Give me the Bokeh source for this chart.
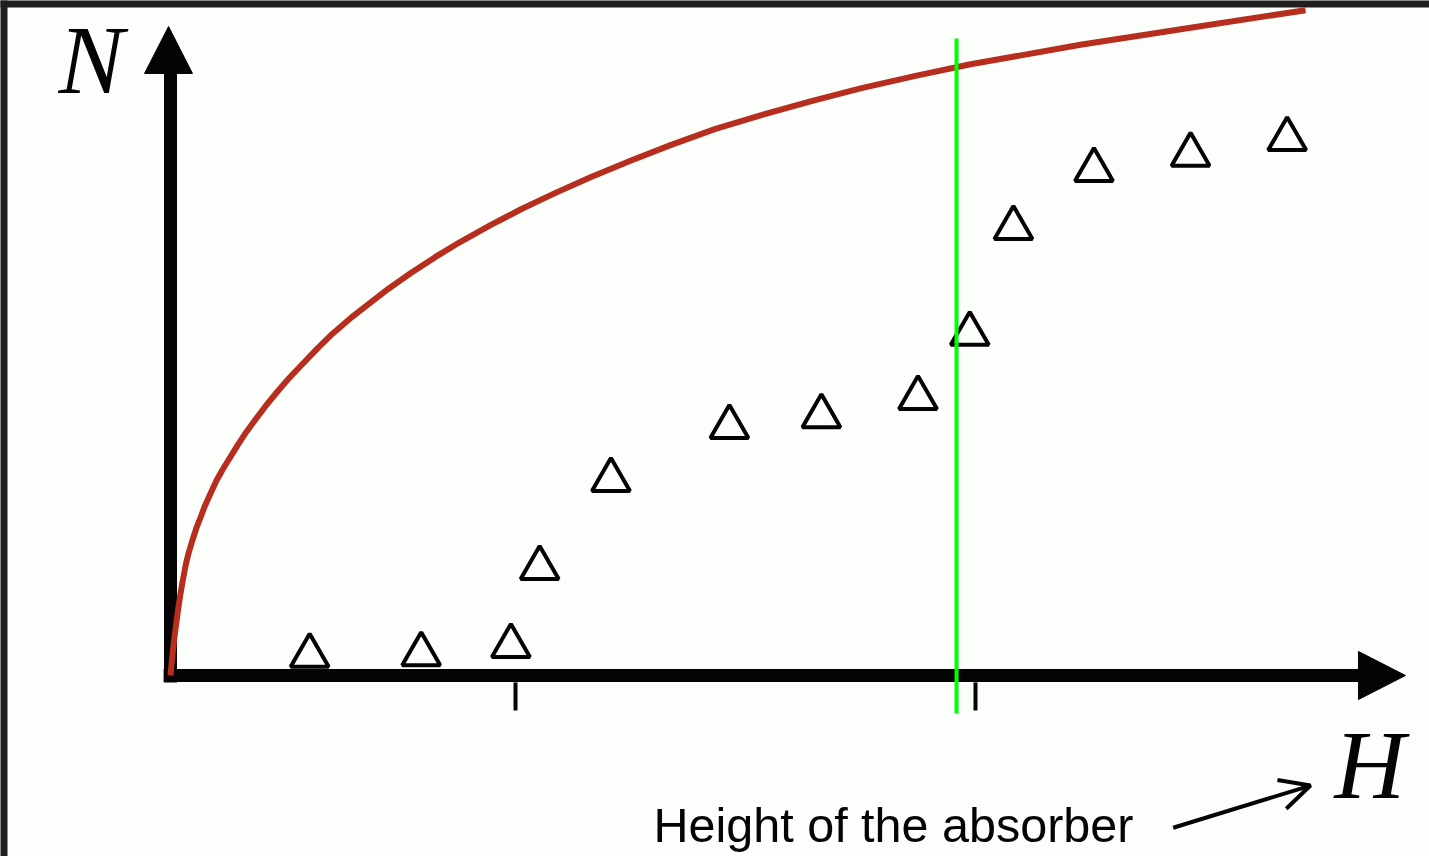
from bokeh.plotting import figure
from bokeh.models import Range1d, Arrow, OpenHead, ColumnDataSource
from bokeh.core.properties import value
from bokeh.embed import file_html
from bokeh.resources import INLINE

# Measured counts N versus absorber height H (open triangles)
meas_h = [1.21, 2.18, 2.96, 3.21, 3.83, 4.86, 5.66, 6.50, 6.95, 7.33, 8.03, 8.87, 9.71]
meas_n = [0.172, 0.185, 0.257, 0.935, 1.70, 2.161, 2.254, 2.413, 2.971, 3.891, 4.396, 4.528, 4.664]

# Expected curve N(H)
curve_h = [0.0, 0.0087, 0.0174, 0.0261, 0.0348, 0.0522, 0.0696, 0.0870, 0.1043, 0.1304,
           0.1565, 0.1913, 0.2261, 0.2609, 0.2957, 0.3478, 0.4000, 0.4522, 0.5826, 0.6609,
           0.7391, 0.8261, 0.9304, 1.0261, 1.1478, 1.2783, 1.4087, 1.5652, 1.7217, 1.8957,
           2.0870, 2.3043, 2.5217, 2.7826, 3.0435, 3.3478, 3.6522, 4.0000, 4.3478, 4.7391,
           5.1304, 5.5652, 6.0000, 6.4783, 6.9565, 7.9130, 8.8696, 9.8696]
curve_n = [0.0, 0.0957, 0.1817, 0.2609, 0.3374, 0.4696, 0.5983, 0.7130, 0.8130, 0.9522,
           1.0626, 1.1783, 1.2852, 1.3739, 1.4670, 1.5826, 1.6957, 1.7896, 2.0017, 2.1200,
           2.2270, 2.3417, 2.4696, 2.5809, 2.7087, 2.8452, 2.9722, 3.1070, 3.2296, 3.3635,
           3.4983, 3.6400, 3.7713, 3.9157, 4.0522, 4.1965, 4.3330, 4.4765, 4.6122, 4.7530,
           4.8704, 4.9922, 5.1052, 5.2148, 5.3148, 5.4843, 5.6330, 5.7852]

# Tick marks on the H axis and the absorber height marker
tick_h = [3, 7]
absorber_h = 6.835

BG = "#fcfefc"
FRAME = "#221f20"
INK = "#050305"
RED = "#b82e1e"
GREEN = "#00ff00"

X0, X1 = -1.4783, 10.9478
Y0, Y1 = -1.5739, 5.8696
PX = 1 / 115.0

p = figure(width=1429, height=856,
           x_range=Range1d(X0, X1), y_range=Range1d(Y0, Y1),
           output_backend="svg", toolbar_location=None,
           x_axis_location=None, y_axis_location=None,
           min_border=0, background_fill_color=BG, border_fill_color=BG)
p.grid.visible = False
p.outline_line_color = None

# Dark edge along the top and the left side of the canvas
p.quad(left=[X0 - 0.1, X0 - 0.1], right=[X1 + 0.1, X0 + 7 * PX], bottom=[Y1 - 7 * PX, Y0 - 0.1],
       top=[Y1 + 0.1, Y1 + 0.1], fill_color=FRAME, line_color=None)

# Axes drawn as thick arrows
p.segment(x0=[-0.06], y0=[0.0], x1=[10.36], y1=[0.0], line_color=INK, line_width=13, line_cap="butt")
p.segment(x0=[0.0], y0=[-0.06], x1=[0.0], y1=[5.26], line_color=INK, line_width=13, line_cap="butt")
p.patch(x=[-0.226, 0.191, -0.017], y=[5.235, 5.235, 5.643], fill_color=INK, line_color=INK, line_width=1)
p.patch(x=[10.33, 10.33, 10.739], y=[0.209, -0.209, 0.0], fill_color=INK, line_color=INK, line_width=1)

# Ticks below the H axis
p.segment(x0=tick_h, y0=[-0.06] * len(tick_h), x1=tick_h, y1=[-0.304] * len(tick_h),
          line_color=INK, line_width=4, line_cap="butt")

# Measurements
src = ColumnDataSource(dict(h=meas_h, n=meas_n))
p.scatter(x="h", y="n", source=src, marker="triangle", size=38,
          fill_color=None, line_color=INK, line_width=4)

# Expected curve
p.line(curve_h, curve_n, line_color=RED, line_width=6, line_join="round")

# Absorber height
p.segment(x0=[absorber_h], y0=[-0.330], x1=[absorber_h], y1=[5.539],
          line_color=GREEN, line_width=4, line_cap="butt")

# Axis letters
p.text(x=[-0.974], y=[5.355], text=["N"], text_font=value("Liberation Serif"),
       text_font_style="italic", text_font_size="98px", text_color=INK,
       text_align="left", text_baseline="alphabetic")
p.text(x=[10.122], y=[-0.780], text=["H"], text_font=value("Liberation Serif"),
       text_font_style="italic", text_font_size="98px", text_color=INK,
       text_align="left", text_baseline="alphabetic")

# Caption with pointer to the H axis
p.text(x=[4.2], y=[-1.300], text=["Height of the absorber"], text_font=value("Liberation Sans"),
       text_font_size="48.5px", text_color=INK, text_align="left", text_baseline="alphabetic")
p.add_layout(Arrow(end=OpenHead(size=30, line_color=INK, line_width=4),
                   x_start=8.719, y_start=-1.324, x_end=9.913, y_end=-0.957,
                   line_color=INK, line_width=4))

# Page without margins or scrollbars, same background as the plot
page_style = ("<style>html, body {margin: 0; padding: 0; overflow: hidden; "
              "background: " + BG + ";}</style>")
html = file_html(p, INLINE).replace("</head>", page_style + "</head>", 1)
open("out.html", "w").write(html)
